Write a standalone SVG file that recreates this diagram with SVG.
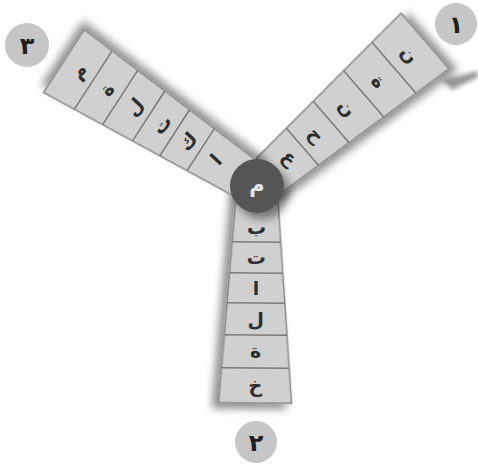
<svg xmlns="http://www.w3.org/2000/svg" width="478" height="468" viewBox="0 0 478 468">
<style>
.arm{fill:#d0d0d0;stroke:#888;stroke-width:1.5}
.dv{stroke:#7a7a7a;stroke-width:1.5}
.lt{font-family:"DejaVu Sans",sans-serif;font-size:19px;font-weight:bold;fill:#2e2e2e;text-anchor:middle;dominant-baseline:central}
.badge{fill:#c6c6c6}
.bt{font-family:"DejaVu Sans",sans-serif;font-size:24px;font-weight:bold;fill:#1e1e1e;text-anchor:middle;dominant-baseline:central}
</style>
<defs>
<filter id="sh" x="-30%" y="-30%" width="160%" height="160%"><feDropShadow dx="5" dy="6" stdDeviation="4" flood-color="#000" flood-opacity="0.45"/></filter>
<filter id="bl" x="-30%" y="-30%" width="160%" height="160%"><feGaussianBlur stdDeviation="2"/></filter>
</defs>
<rect width="478" height="468" fill="#fff"/>
<g id="streak"><polygon points="442,80 478,71 478,77 452,90" fill="#999" filter="url(#bl)"/></g>
<g id="arm1" transform="translate(257,186) rotate(-40.8)">
<polygon class="arm" filter="url(#sh)" points="0,-20 222,-36.8 222,36.8 0,20"/>
<line class="dv" x1="60" y1="-24.5" x2="60" y2="24.5"/>
<line class="dv" x1="98" y1="-27.4" x2="98" y2="27.4"/>
<line class="dv" x1="141" y1="-30.6" x2="141" y2="30.6"/>
<line class="dv" x1="181" y1="-33.7" x2="181" y2="33.7"/>
<text class="lt" transform="translate(44,0) rotate(90)">ع</text>
<text class="lt" transform="translate(79,0) rotate(90)">ح</text>
<text class="lt" transform="translate(119.5,0) rotate(90)">ن</text>
<text class="lt" transform="translate(161,0) rotate(90)">ة</text>
<text class="lt" transform="translate(201.5,0) rotate(90)">ن</text>
</g>
<g id="arm2" transform="translate(257,186) rotate(90.5)">
<polygon class="arm" filter="url(#sh)" points="0,-20 217,-36.4 217,36.4 0,20"/>
<line class="dv" x1="56" y1="-24.2" x2="56" y2="24.2"/>
<line class="dv" x1="87" y1="-26.6" x2="87" y2="26.6"/>
<line class="dv" x1="117" y1="-28.8" x2="117" y2="28.8"/>
<line class="dv" x1="149" y1="-31.2" x2="149" y2="31.2"/>
<line class="dv" x1="182" y1="-33.7" x2="182" y2="33.7"/>
<text class="lt" transform="translate(41,0) rotate(-90.5)">ب</text>
<text class="lt" transform="translate(71.5,0) rotate(-90.5)">ت</text>
<text class="lt" transform="translate(102,0) rotate(-90.5)">ا</text>
<text class="lt" transform="translate(133,0) rotate(-90.5)">ل</text>
<text class="lt" transform="translate(165.5,0) rotate(-90.5)">ة</text>
<text class="lt" transform="translate(199.5,0) rotate(-90.5)">خ</text>
</g>
<g id="arm3" transform="translate(257,186) rotate(-147.1)">
<polygon class="arm" filter="url(#sh)" points="0,-20 230,-37.4 230,37.4 0,20"/>
<line class="dv" x1="67" y1="-25.1" x2="67" y2="25.1"/>
<line class="dv" x1="98" y1="-27.4" x2="98" y2="27.4"/>
<line class="dv" x1="129" y1="-29.7" x2="129" y2="29.7"/>
<line class="dv" x1="163" y1="-32.3" x2="163" y2="32.3"/>
<line class="dv" x1="195" y1="-34.7" x2="195" y2="34.7"/>
<text class="lt" transform="translate(49,0) rotate(100)">ا</text>
<text class="lt" transform="translate(82.5,0) rotate(100)">ك</text>
<text class="lt" transform="translate(113.5,0) rotate(100)">ت</text>
<text class="lt" transform="translate(146,0) rotate(100)">ل</text>
<text class="lt" transform="translate(179,0) rotate(100)">ة</text>
<text class="lt" transform="translate(212.5,0) rotate(100)">م</text>
</g>
<g id="center">
<circle cx="257" cy="186" r="27" fill="#555" filter="url(#sh)"/>
<text class="lt" x="257" y="185" style="fill:#e6e6e6;font-size:21px">م</text>
</g>
<g id="badge1"><circle class="badge" cx="456" cy="24" r="21"/><text class="bt" x="456" y="25">١</text></g>
<g id="badge2"><circle class="badge" cx="256" cy="442" r="21"/><text class="bt" x="256" y="443">٢</text></g>
<g id="badge3"><circle class="badge" cx="27" cy="45" r="22"/><text class="bt" x="27" y="46">٣</text></g>
</svg>
